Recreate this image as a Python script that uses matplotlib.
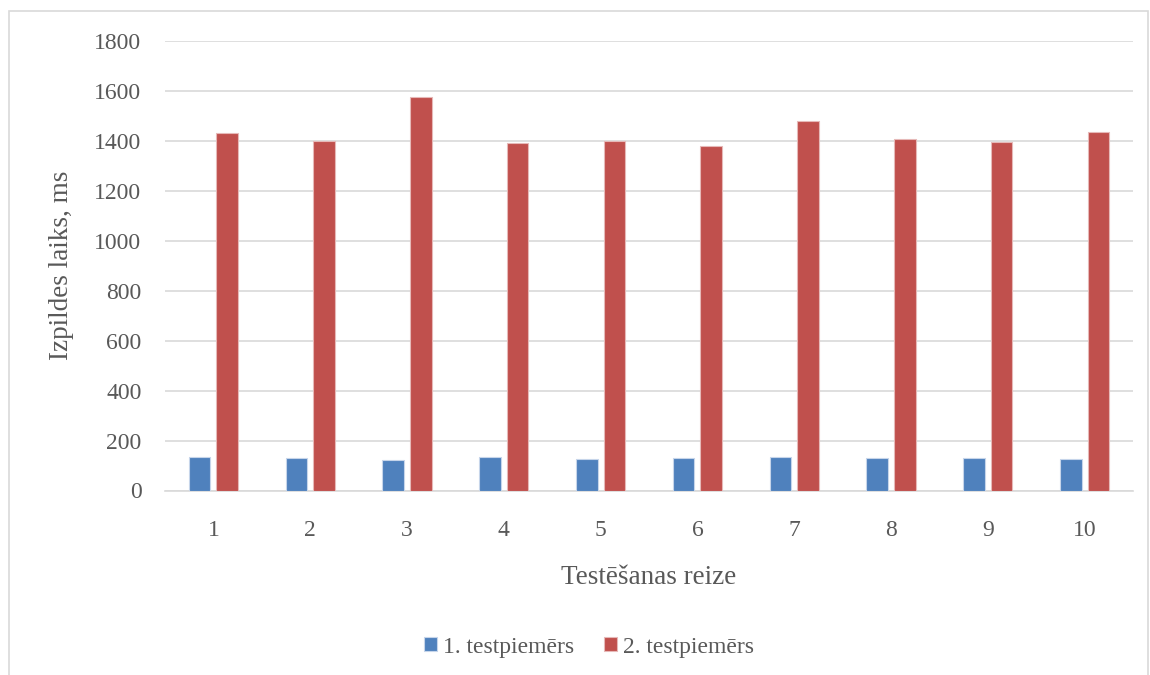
import matplotlib
matplotlib.use("Agg")
import matplotlib.pyplot as plt
from matplotlib.patches import Rectangle
import numpy as np

runs = ["1", "2", "3", "4", "5", "6", "7", "8", "9", "10"]
test1 = [136, 129, 121, 133, 125, 132, 136, 132, 129, 128]
test2 = [1432, 1399, 1574, 1392, 1399, 1377, 1480, 1406, 1393, 1436]
series_names = ["1. testpiemērs", "2. testpiemērs"]
yticks = [0, 200, 400, 600, 800, 1000, 1200, 1400, 1600, 1800]

plt.rcParams['font.family'] = ['Liberation Serif', 'DejaVu Serif']
text_color = "#595959"
grid_color = "#d9d9d9"
blue = "#4F81BD"
red = "#C0504D"

fig = plt.figure(figsize=(11.5, 6.75), dpi=100)
W, H = 1150, 675
ax_left, ax_right, ax_top, ax_bottom = 165, 1133, 40.7, 490.5
ax = fig.add_axes([ax_left / W, 1 - ax_bottom / H,
                   (ax_right - ax_left) / W, (ax_bottom - ax_top) / H])

# outer chart frame
fig.patches.append(Rectangle((9 / W, -0.01), (1148 - 9) / W, (1 - 11 / H) + 0.01,
                             transform=fig.transFigure, fill=False,
                             edgecolor=grid_color, linewidth=1.2))

x = np.arange(len(runs))
bw = 0.225
gap = 0.06
ax.bar(x - (bw + gap) / 2, test1, width=bw, color=blue, edgecolor="#c6d5ea",
       linewidth=0.8, label=series_names[0], zorder=3)
ax.bar(x + (bw + gap) / 2, test2, width=bw, color=red, edgecolor="#e6b9b8",
       linewidth=0.8, label=series_names[1], zorder=3)

ax.set_xlim(-0.5, len(runs) - 0.5)
ax.set_ylim(0, 1800)
ax.set_yticks(yticks)
ax.set_xticks(x)
ax.set_xticklabels(runs)
ax.yaxis.grid(True, color=grid_color, linewidth=1.2, zorder=0)
ax.set_axisbelow(True)
for s in ["top", "right", "left"]:
    ax.spines[s].set_visible(False)
ax.spines["bottom"].set_color(grid_color)
ax.spines["bottom"].set_linewidth(1.2)
ax.tick_params(axis="both", length=0, labelsize=17, colors=text_color)
ax.tick_params(axis="y", pad=17)
ax.tick_params(axis="x", pad=21)

ax_w = ax_right - ax_left
ax_h = ax_bottom - ax_top
ax.set_xlabel("Testēšanas reize", fontsize=19.5, color=text_color, va="center")
ax.xaxis.set_label_coords(0.5, (ax_bottom - 577) / ax_h)
ax.set_ylabel("Izpildes laiks, ms", fontsize=19.5, color=text_color, va="center")
ax.yaxis.set_label_coords((61 - ax_left) / ax_w, 0.5)

leg = fig.legend(loc="center", bbox_to_anchor=(589 / W, 1 - 647 / H), ncol=2,
                 frameon=False, fontsize=17, handlelength=0.55, handleheight=0.55,
                 handletextpad=0.25, columnspacing=1.25, labelcolor=text_color)

fig.savefig("out.png", dpi=100)
